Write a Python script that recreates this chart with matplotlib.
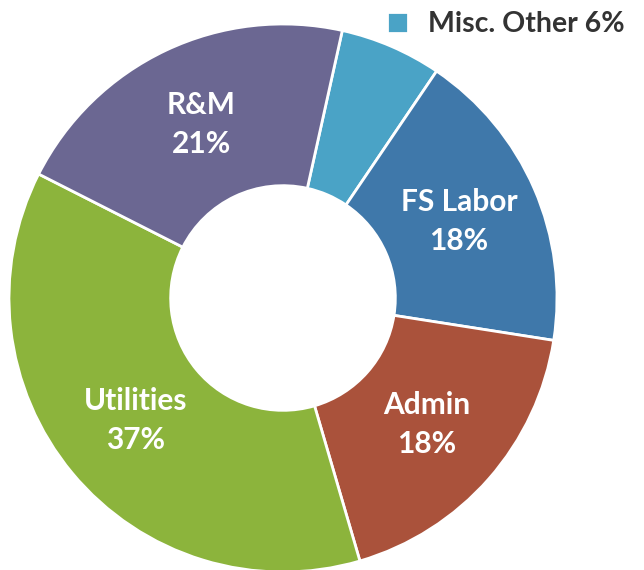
import matplotlib.pyplot as plt
import numpy as np

categories = ["Misc. Other", "FS Labor", "Admin", "Utilities", "R&M"]
shares = [6, 18, 18, 37, 21]
colors = ["#4aa3c6", "#3f78aa", "#aa523b", "#8cb43c", "#6b6792"]

plt.rcParams["font.family"] = ["Lato", "DejaVu Sans"]

fig = plt.figure(figsize=(6.44, 5.70), dpi=100)
# donut centre at (283, 298) px, outer radius 274 px
cx, cy, r = 283, 298, 274
ax = fig.add_axes([(cx - r) / 644, (570 - cy - r) / 570, 2 * r / 644, 2 * r / 570])

wedges, _ = ax.pie(
    shares,
    colors=colors,
    startangle=77.5,
    counterclock=False,
    radius=1,
    wedgeprops=dict(width=0.59, edgecolor="white", linewidth=2),
)
ax.set_xlim(-1, 1)
ax.set_ylim(-1, 1)
ax.set_aspect("equal")
ax.axis("off")

# labels inside the wedges (not for the small one, it goes in the legend)
for w, name, pct in zip(wedges, categories, shares):
    if name == "Misc. Other":
        continue
    mid = np.deg2rad((w.theta1 + w.theta2) / 2)
    ax.text(0.70 * np.cos(mid), 0.70 * np.sin(mid), f"{name}\n{pct}%",
            ha="center", va="center", color="white", fontsize=21.5,
            fontweight="bold", linespacing=1.45)

leg = fig.legend([wedges[0]], [f"{categories[0]} {shares[0]}%"],
                 loc="upper right", bbox_to_anchor=(1.01, 1.025),
                 frameon=False, handlelength=0.75, handleheight=0.75,
                 handletextpad=0.7, prop=dict(size=20.5, weight="bold"))
for t in leg.get_texts():
    t.set_color("#333333")

fig.savefig("out.png")
